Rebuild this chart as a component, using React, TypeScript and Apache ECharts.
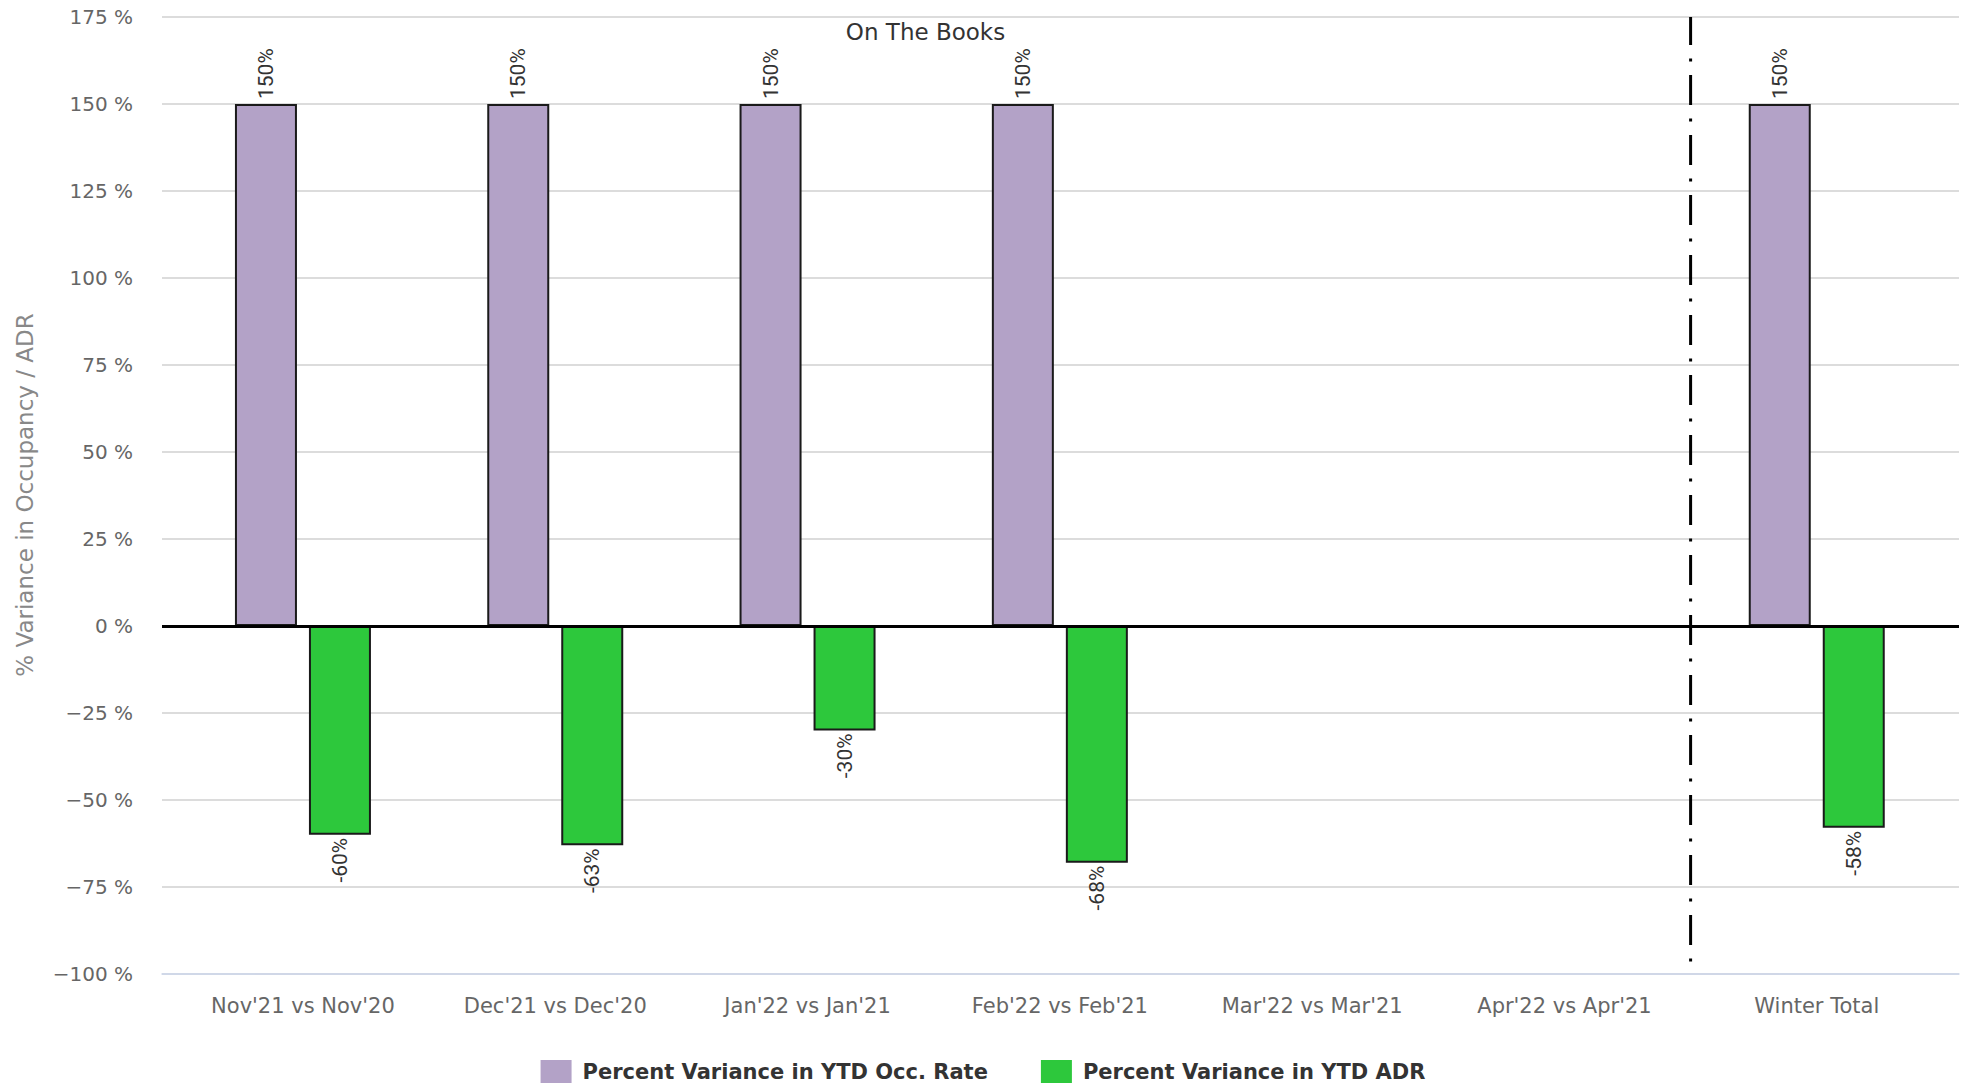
import React, { useEffect, useRef } from "react";
import * as echarts from "echarts";

const categories = [
  "Nov'21 vs Nov'20",
  "Dec'21 vs Dec'20",
  "Jan'22 vs Jan'21",
  "Feb'22 vs Feb'21",
  "Mar'22 vs Mar'21",
  "Apr'22 vs Apr'21",
  "Winter Total",
];
const occRate: (number | null)[] = [150, 150, 150, 150, null, null, 150];
const adr: (number | null)[] = [-60, -63, -30, -68, null, null, -58];
const seriesNames = ["Percent Variance in YTD Occ. Rate", "Percent Variance in YTD ADR"];
const yMin = -100;
const yMax = 175;
const yInterval = 25;
const separatorAt = 5.5;
const titleText = "On The Books";
const yTitle = "% Variance in Occupancy / ADR";

export default function App() {
  const ref = useRef<HTMLDivElement>(null);
  useEffect(() => {
    if (!ref.current) return;
    const chart = echarts.init(ref.current, undefined, { renderer: "svg" });
    const fmtY = (v: number) => (v < 0 ? "\u2212" + Math.abs(v) : String(v)) + " %";
    const barLabelBase = {
      show: true,
      rotate: 90,
      verticalAlign: "middle",
      formatter: "{c}%",
      fontFamily: "Roboto",
      fontSize: 21,
      color: "#333",
    };
    chart.setOption({
      animation: false,
      backgroundColor: "#fff",
      grid: [
        { left: 162, right: 7, top: 17, height: 957 },
        { left: 176.8, right: 23.1, top: 17, height: 957 },
      ],
      xAxis: [
        {
          gridIndex: 0,
          type: "value",
          min: -0.5587,
          max: 6.5638,
          axisLine: { show: true, onZero: false, lineStyle: { color: "#ccd6eb", width: 1.5 } },
          axisTick: { show: false },
          axisLabel: { show: false },
          splitLine: { show: false },
        },
        {
          gridIndex: 1,
          type: "category",
          data: categories,
          axisLine: { show: false },
          axisTick: { show: false },
          splitLine: { show: false },
          axisLabel: {
            interval: 0,
            margin: 21,
            color: "#666",
            fontFamily: "DejaVu Sans",
            fontSize: 21,
          },
        },
      ],
      yAxis: [
        {
          gridIndex: 0,
          type: "value",
          min: yMin,
          max: yMax,
          interval: yInterval,
          axisLine: { show: false },
          axisTick: { show: false },
          axisLabel: {
            margin: 29,
            color: "#666",
            fontFamily: "DejaVu Sans",
            fontSize: 20,
            formatter: fmtY,
          },
          splitLine: { show: true, lineStyle: { color: "#d0d0d0", width: 1.5 } },
        },
        {
          gridIndex: 1,
          type: "value",
          min: yMin,
          max: yMax,
          interval: yInterval,
          show: false,
          splitLine: { show: false },
        },
      ],
      legend: {
        data: seriesNames,
        left: "center",
        top: 1060,
        padding: 0,
        itemWidth: 31,
        itemHeight: 23,
        itemGap: 53,
        icon: "rect",
        itemStyle: { borderWidth: 0 },
        textStyle: {
          fontFamily: "DejaVu Sans",
          fontWeight: "bold",
          fontSize: 21,
          color: "#333",
          padding: [0, 0, 0, 6],
        },
      },
      graphic: [
        {
          type: "text",
          x: 925.5,
          y: 32,
          style: {
            text: titleText,
            fill: "#333",
            font: "23px 'DejaVu Sans'",
            align: "center",
            verticalAlign: "middle",
          },
        },
        {
          type: "text",
          x: 24.5,
          y: 495,
          rotation: Math.PI / 2,
          style: {
            text: yTitle,
            fill: "#888",
            font: "23px 'DejaVu Sans'",
            align: "center",
            verticalAlign: "middle",
          },
        },
      ],
      series: [
        {
          name: seriesNames[0],
          type: "bar",
          xAxisIndex: 1,
          yAxisIndex: 1,
          data: occRate,
          barWidth: 62,
          barGap: "19.35%",
          itemStyle: { color: "#b3a2c7", borderColor: "#1a1a1a", borderWidth: 2 },
          label: { ...barLabelBase, position: "top", distance: 5, align: "left" },
        },
        {
          name: seriesNames[1],
          type: "bar",
          xAxisIndex: 1,
          yAxisIndex: 1,
          data: adr,
          barWidth: 62,
          barGap: "19.35%",
          itemStyle: { color: "#2dc83c", borderColor: "#1a1a1a", borderWidth: 2 },
          label: { ...barLabelBase, position: "bottom", distance: 3, align: "right" },
        },
        {
          name: "separator",
          type: "line",
          xAxisIndex: 0,
          yAxisIndex: 0,
          data: [
            [separatorAt, yMax],
            [separatorAt, yMin],
          ],
          symbol: "none",
          silent: true,
          z: 5,
          lineStyle: { color: "#000", width: 3, type: [30, 13.5, 3, 13.5], dashOffset: 2 },
          markLine: {
            silent: true,
            symbol: ["none", "none"],
            label: { show: false },
            lineStyle: { color: "#000", width: 3, type: "solid" },
            data: [{ yAxis: 0 }],
          },
        },
      ],
    });
    return () => chart.dispose();
  }, []);
  return (
    <div
      ref={ref}
      style={{ position: "fixed", left: 0, top: 0, width: 1966, height: 1087 }}
    />
  );
}
